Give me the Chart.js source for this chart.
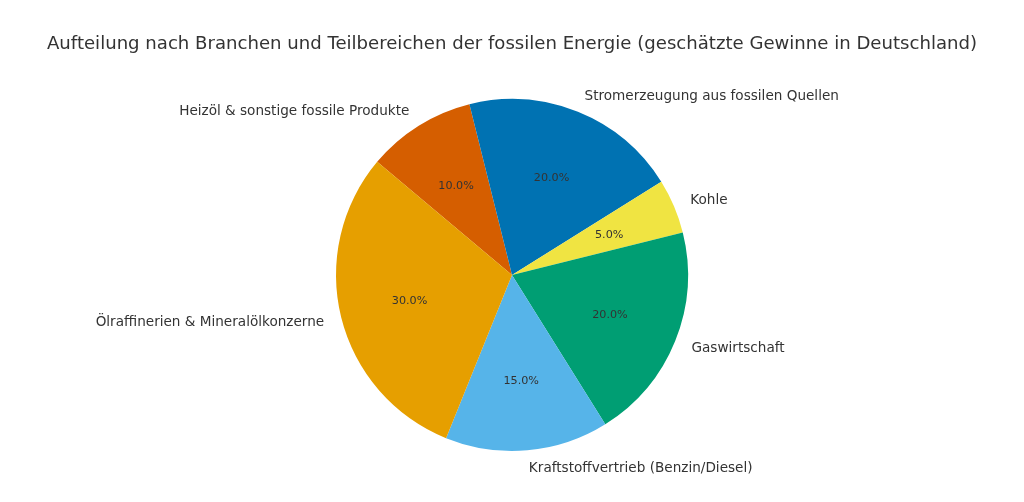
<!DOCTYPE html>
<html>
<head>
<meta charset="utf-8">
<script src="https://cdn.jsdelivr.net/npm/chart.js@4"></script>
<style>
  html, body { margin: 0; padding: 0; background: #fff; }
  #wrap { width: 1024px; height: 502px; }
</style>
</head>
<body>
<div id="wrap"><canvas id="myChart" width="1024" height="502"></canvas></div>
<script>
const titleText = "Aufteilung nach Branchen und Teilbereichen der fossilen Energie (geschätzte Gewinne in Deutschland)";
// clockwise order starting at Heizöl
const labels = [
  "Heizöl & sonstige fossile Produkte",
  "Stromerzeugung aus fossilen Quellen",
  "Kohle",
  "Gaswirtschaft",
  "Kraftstoffvertrieb (Benzin/Diesel)",
  "Ölraffinerien & Mineralölkonzerne"
];
const shares = [10, 20, 5, 20, 15, 30];
const colors = ["#D55E00", "#0072B2", "#F0E442", "#009E73", "#56B4E9", "#E69F00"];

const fontFamily = "'DejaVu Sans', sans-serif";

// draws the title, outer labels and percentages like matplotlib does
const pieLabels = {
  id: "pieLabels",
  afterDraw(chart) {
    const c = chart.ctx;
    c.save();
    c.fillStyle = "#333333";
    c.font = "18.1px " + fontFamily;
    c.textAlign = "center";
    c.textBaseline = "middle";
    c.fillText(titleText, chart.width / 2, 44);

    const meta = chart.getDatasetMeta(0);
    const total = shares.reduce((a, b) => a + b, 0);
    meta.data.forEach((arc, i) => {
      const p = arc.getProps(["x", "y", "startAngle", "endAngle", "outerRadius"], true);
      const mid = (p.startAngle + p.endAngle) / 2;
      const cos = Math.cos(mid), sin = Math.sin(mid);
      // outer label
      c.font = "13.6px " + fontFamily;
      c.textAlign = cos > 0 ? "left" : "right";
      c.fillText(labels[i], p.x + cos * p.outerRadius * 1.1, p.y + sin * p.outerRadius * 1.1 + 1);
      // percent label
      c.font = "11.2px " + fontFamily;
      c.textAlign = "center";
      const pct = (shares[i] / total * 100).toFixed(1) + "%";
      c.fillText(pct, p.x + cos * p.outerRadius * 0.6, p.y + sin * p.outerRadius * 0.6 + 1);
    });
    c.restore();
  }
};

new Chart(document.getElementById("myChart").getContext("2d"), {
  type: "pie",
  data: {
    labels: labels,
    datasets: [{
      data: shares,
      backgroundColor: colors,
      borderWidth: 0
    }]
  },
  options: {
    responsive: false,
    animation: false,
    rotation: -50,
    layout: { padding: { top: 99, bottom: 51 } },
    plugins: {
      legend: { display: false },
      tooltip: { enabled: false }
    }
  },
  plugins: [pieLabels]
});
</script>
</body>
</html>
